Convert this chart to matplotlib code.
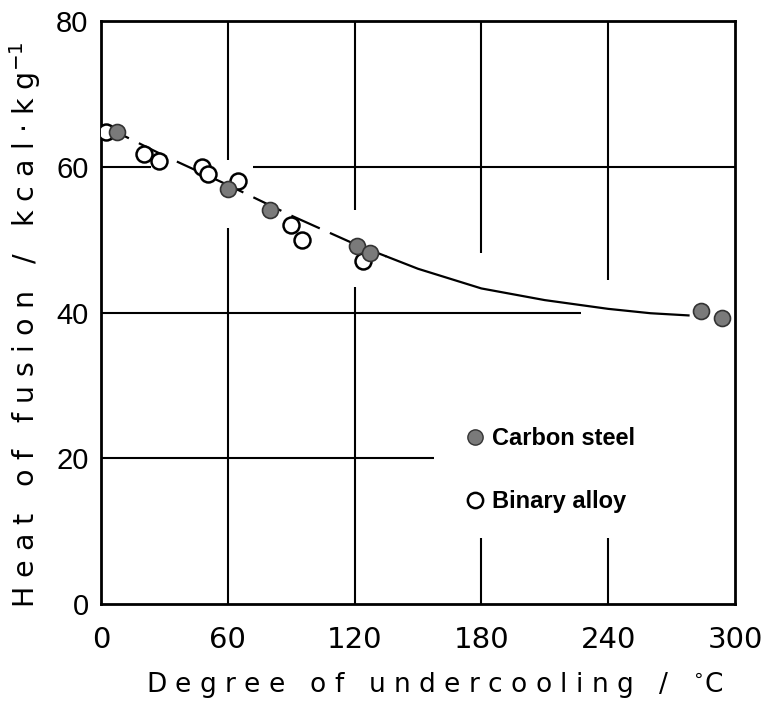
import matplotlib
matplotlib.use("Agg")
import matplotlib.pyplot as plt
from matplotlib.lines import Line2D

# data
steel_x = [7.7, 60, 80, 121, 127.3, 284, 293.7]
steel_y = [64.7, 56.9, 54.0, 49.1, 48.1, 40.2, 39.2]
alloy_x = [2.4, 20.5, 27.4, 47.6, 50.8, 65, 89.9, 95, 123.8]
alloy_y = [64.7, 61.8, 60.8, 60.0, 59.0, 58.0, 52.0, 50.0, 47.0]
curve_x = [0, 30, 60, 90, 120, 135, 150, 180, 210, 240, 260, 278]
curve_y = [65.8, 61.5, 57.5, 53.3, 49.4, 47.7, 46.0, 43.3, 41.7, 40.5, 39.9, 39.6]
xticks = [0, 60, 120, 180, 240, 300]
yticks = [0, 20, 40, 60, 80]

# broken grid lines as in the scanned figure: (value, start, end)
hgrid = [(60, 0, 23.7), (60, 72, 300), (40, 0, 227), (20, 0, 157.6)]
vgrid = [(60, 60.9, 80), (60, 0, 51.6), (120, 54, 80), (120, 0, 43.5),
         (180, 48.2, 80), (180, 0, 9), (240, 44.4, 80), (240, 0, 9)]

narrow = ["Liberation Sans Narrow", "DejaVu Sans Condensed", "DejaVu Sans"]
plain = ["Liberation Sans", "DejaVu Sans"]

fig = plt.figure(figsize=(7.67, 7.06), dpi=100)
ax = fig.add_axes([101 / 767, 102 / 706, 634 / 767, 583 / 706])

for y, x0, x1 in hgrid:
    ax.hlines(y, x0, x1, color="black", lw=1.5, zorder=1)
for x, y0, y1 in vgrid:
    ax.vlines(x, y0, y1, color="black", lw=1.5, zorder=1)

# fitted curve: dashed on the left, solid on the right
split = 6
ax.plot(curve_x[:split], curve_y[:split], color="black", lw=1.6,
        dashes=(14, 5), zorder=2)
ax.plot(curve_x[split - 1:], curve_y[split - 1:], color="black", lw=1.6,
        zorder=2)

ax.plot(alloy_x, alloy_y, "o", ms=11.5, mfc="white", mec="black", mew=1.8,
        ls="none", zorder=3)
ax.plot(steel_x, steel_y, "o", ms=11.5, mfc="#7a7a7a", mec="#333333",
        mew=1.2, ls="none", zorder=4)

ax.set_xlim(0, 300)
ax.set_ylim(0, 80)
ax.set_xticks(xticks)
ax.set_yticks(yticks)
ax.set_xticklabels([str(v) for v in xticks], family=narrow, fontsize=21)
ax.set_yticklabels([str(v) for v in yticks], family=plain, fontsize=21)
ax.tick_params(axis="x", length=0, pad=16)
ax.tick_params(axis="y", length=0, pad=9)
for s in ax.spines.values():
    s.set_linewidth(2)

ax.set_xlabel("D e g r e e   o f   u n d e r c o o l i n g   /   $^{\\circ}$C",
              family=narrow, fontsize=19)
ax.set_ylabel("H e a t   o f   f u s i o n   /   k c a l $\\cdot$ k g$^{-1}$",
              family=narrow, fontsize=20.5)
ax.xaxis.set_label_coords(0.527, -0.113)
ax.yaxis.set_label_coords(-0.092, 0.479)

handles = [
    Line2D([], [], marker="o", ls="none", ms=11, mfc="#7a7a7a", mec="#333333"),
    Line2D([], [], marker="o", ls="none", ms=11, mfc="white", mec="black", mew=1.8),
]
ax.legend(handles, ["Carbon steel", "Binary alloy"], loc="upper left",
          bbox_to_anchor=(0.538, 0.34), frameon=False, handletextpad=0.2,
          labelspacing=1.7, handlelength=1.0,
          prop={"family": plain, "size": 17, "weight": "bold"})

fig.savefig("out.png", dpi=100)
